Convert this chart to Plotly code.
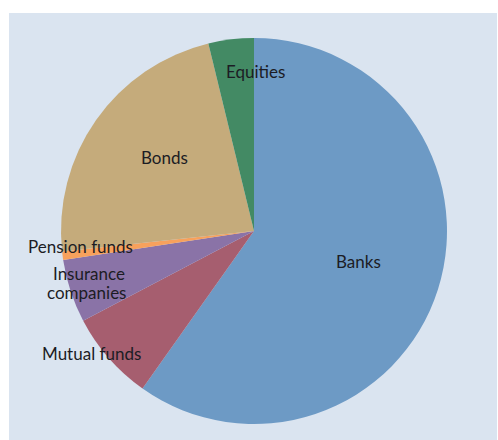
import plotly.graph_objects as go

# Holdings by sector (share of total, %)
sectors = ["Banks", "Mutual funds", "Insurance companies", "Pension funds", "Bonds", "Equities"]
shares = [59.8, 7.5, 5.3, 0.7, 22.9, 3.8]
colors = ["#6d9ac5", "#a65e6f", "#8a73a7", "#f7a15c", "#c5ab7b", "#438a64"]

# Label lines and where each line sits (pixels from top-left)
label_lines = ["Banks", "Mutual funds", "Insurance", "companies", "Pension funds", "Bonds", "Equities"]
label_px = [(358, 261), (91, 353), (89, 273), (86, 292), (80, 246), (164, 157), (256, 71)]

W, H = 498, 440
cx, cy, r = 254, 231, 193

fig = go.Figure(go.Pie(
    labels=sectors,
    values=shares,
    marker=dict(colors=colors, line=dict(width=0)),
    sort=False,
    direction="clockwise",
    rotation=0,
    textinfo="none",
    hoverinfo="label+percent",
    showlegend=False,
    domain=dict(x=[(cx - r) / W, (cx + r) / W], y=[(H - cy - r) / H, (H - cy + r) / H]),
))

annotations = [
    dict(x=px / W, y=1 - py / H, xref="paper", yref="paper", text=t, showarrow=False,
         xanchor="center", yanchor="middle", font=dict(family="Lato", size=17, color="#1c1c24"))
    for t, (px, py) in zip(label_lines, label_px)
]

fig.update_layout(
    width=W, height=H,
    margin=dict(l=0, r=0, t=0, b=0),
    paper_bgcolor="white",
    shapes=[dict(type="rect", xref="paper", yref="paper", x0=9 / W, x1=497 / W, y0=0, y1=1 - 13 / H,
                 fillcolor="#dae4f0", line=dict(width=0), layer="below")],
    annotations=annotations,
)

fig.write_html("out.html")
